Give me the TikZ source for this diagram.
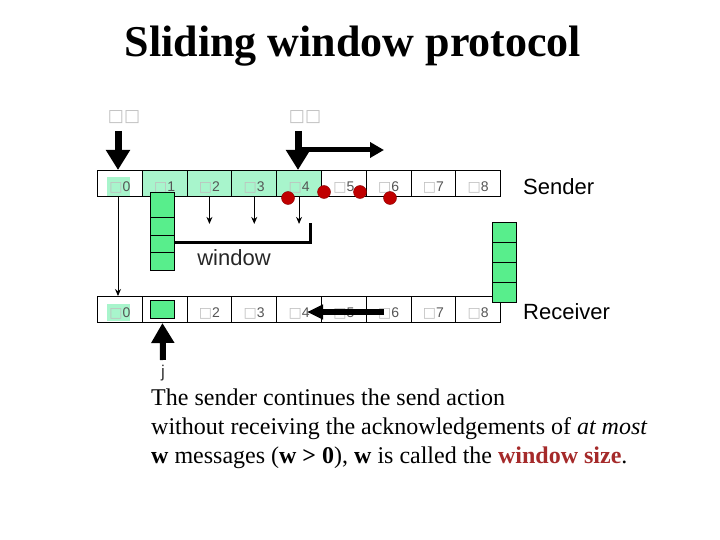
\documentclass[tikz,border=0pt]{standalone}
\usepackage{fontspec}
\setmainfont{Liberation Serif}
\setsansfont{Liberation Sans}
\newfontfamily\boxfont{DejaVu Sans}
\usetikzlibrary{arrows.meta,positioning}
\definecolor{cellgreen}{HTML}{A8F5CC}
\definecolor{boxgreen}{HTML}{58EE8C}
\definecolor{dotred}{HTML}{C00000}
\definecolor{sizered}{HTML}{A52A2A}
\definecolor{lblgray}{HTML}{555555}
\newcommand{\blank}{{\boxfont\textcolor{lightgray}{□}}}
\tikzset{
	cell/.style={draw, line width=0.9pt, minimum width=44.8pt, minimum height=26pt, inner sep=0pt, anchor=north west},
	lbl/.style={font=\sffamily\fontsize{14}{14}\selectfont, text=lblgray, inner sep=0pt},
	slot/.style={draw, fill=boxgreen, line width=0.9pt, minimum width=24pt, inner sep=0pt, anchor=north west},
	bigarrow/.style={line width=7pt, -{Triangle[length=20pt,width=23pt]}},
	flatarrow/.style={line width=5pt, -{Triangle[length=14pt,width=15pt]}},
	thinarrow/.style={line width=1pt, -{Stealth[length=7pt,width=6pt]}},
	dot/.style={circle, fill=dotred, draw=dotred!70!black, minimum size=13pt, inner sep=0pt},
	side/.style={font=\sffamily\fontsize{22}{22}\selectfont, anchor=west, inner sep=0pt}
}
\begin{document}
\begin{tikzpicture}[x=1pt,y=-1pt]
		\useasboundingbox (0,0) rectangle (720,540);
		\node[font=\bfseries\fontsize{44}{44}\selectfont] (title) at (353,46) {Sliding window protocol};
		% the two rows of cells
		\foreach \i in {0,...,8}  {
				\ifnum\i>0 \ifnum\i<5 \def\col{cellgreen}\else\def\col{white}\fi\else\def\col{white}\fi
				\node[cell, fill=\col] (s\i) at (97+44.8*\i,170) {};
				\node[cell, fill=white] (r\i) at (97+44.8*\i,296) {};
			}
		\fill[cellgreen] (107,177) rectangle (130,196);
		\fill[cellgreen] (107,304) rectangle (130,321);
		\node[slot, minimum height=18pt] (rbox) at (150,300) {};
		\foreach \i in {0,...,8}  {
				\node[lbl] (sl\i) at ([yshift=-4pt]s\i.center) {\blank\i};
				\ifnum\i=1\else\node[lbl] (rl\i) at ([yshift=-4pt]r\i.center) {\blank\i};\fi
			}
		% messages in transit
		\foreach \j/\t/\h in {1/192/25,2/217/17.5,3/234.5/17.5,4/252/18}  {
				\node[slot, minimum height=\h pt] (m\j) at (150,\t) {};
			}
		\foreach \j/\t in {1/222,2/242,3/262,4/282}  {
				\node[slot, minimum height=19.5pt] (a\j) at (492,\t) {};
			}
		\node[dot] (d1) at (288,198) {};
		\node[dot] (d2) at (324,192) {};
		\node[dot] (d3) at (360,192) {};
		\node[dot] (d4) at (390,198) {};
		% pointers
		\node[lbl, font=\sffamily\fontsize{17}{17}\selectfont] (pa) at (124,117) {\blank\blank};
		\node[lbl, font=\sffamily\fontsize{17}{17}\selectfont] (pb) at (305,117) {\blank\blank};
		\coordinate (ta) at (118,131);
		\coordinate (tb) at (298,131);
		\draw[bigarrow] (ta) -- (ta |- s0.north);
		\draw[bigarrow] (tb) -- (tb |- s4.north);
		\coordinate (sl) at (298,150);
		\coordinate (sr) at (384,150);
		\draw[flatarrow] (sl) -- (sr);
		\draw[thinarrow] (s0.south -| ta) -- (r0.north -| ta);
		\foreach \i in {2,3,4}  {
				\draw[thinarrow] (s\i.south) -- ++(0,27);
			}
		\coordinate (wc) at (310,222);
		\draw[line width=3pt] (m3.east |- 0,242) -- (wc |- 0,242) -- ([yshift=-1.5pt]wc);
		\node[font=\sffamily\fontsize{22}{22}\selectfont, text=black!85] (win) at (234,258) {window};
		\coordinate (rr) at (384,312);
		\draw[flatarrow, -{Triangle[length=16pt,width=14pt]}, line width=6pt] (rr) -- (307,312);
		\coordinate (jb) at (163,360);
		\draw[bigarrow, line width=6pt, -{Triangle[length=20pt,width=22pt]}] (jb) -- (rbox.south |- 0,323);
		\node[font=\sffamily\fontsize{17}{17}\selectfont, text=black!80] (j) at (163,373) {j};
		\node[side] (snd) at (523,187) {Sender};
		\node[side] (rcv) at (523,312) {Receiver};
		% explanation
		\node[anchor=north west, align=left, inner sep=0pt, font=\fontsize{24}{29}\selectfont] (txt) at (151,389)
			{The sender continues the send action\\
			without receiving the acknowledgements of \textit{at most}\\
			\textbf{w} messages (\textbf{w > 0}), \textbf{w} is called the \textcolor{sizered}{\textbf{window size}}.};
	\end{tikzpicture}
\end{document}
